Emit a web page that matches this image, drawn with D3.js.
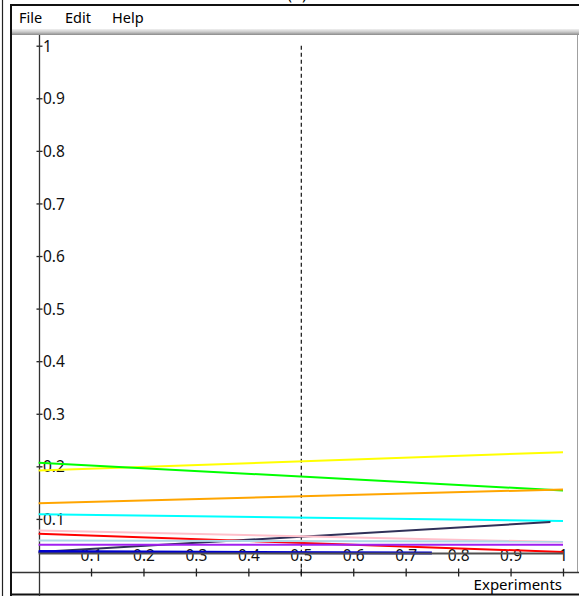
<!DOCTYPE html>
<html><head><meta charset="utf-8">
<script src="https://cdn.jsdelivr.net/npm/d3@7"></script>
<style>
html,body{margin:0;padding:0;background:#fff;}
svg{display:block;}
text{font-family:"Noto Sans","Open Sans",sans-serif;}
</style></head>
<body>
<svg id="c" width="579" height="596"></svg>
<script>
// ---- data ----
const seriesNames  = ["yellow","green","orange","cyan","navy","pink","red","lightblue","purple","blue","black"];
const seriesColors = ["#ffff00","#00ff00","#ffa500","#00ffff","#303058","#ffc0cb","#ff0000","#add8e6","#a020f0","#0000cd","#505050"];
const xStart = [0,0,0,0,0,0,0,0,0,0,0];
const xEnd   = [1,1,1,1,0.976,1,1,1,1,0.75,1];
const yStart = [0.192,0.207,0.130,0.109,0.037,0.078,0.072,0.059,0.051,0.038,0.034];
const yEnd   = [0.227,0.154,0.156,0.096,0.094,0.056,0.037,0.057,0.051,0.035,0.034];
const yTicks = [0.1,0.2,0.3,0.4,0.5,0.6,0.7,0.8,0.9,1];
const xTicks = [0.1,0.2,0.3,0.4,0.5,0.6,0.7,0.8,0.9,1];
const menuItems = ["File","Edit","Help"];
const xLabel = "Experiments";
const marker = 0.5;

const svg = d3.select("#c");
const x = d3.scaleLinear().domain([0,1]).range([38.6,563]);
const y = d3.scaleLinear().domain([0,1]).range([571.5,45.7]);

// title (cut off at top, as in the reference)
svg.append("text").attr("x",297).attr("y",0).attr("text-anchor","middle")
  .attr("font-family","Liberation Serif").attr("font-size",16).text("(b)");

// frame
svg.append("line").attr("x1",2.5).attr("x2",2.5).attr("y1",0).attr("y2",596).attr("stroke","#222").attr("stroke-width",1.2);
svg.append("line").attr("x1",11).attr("x2",11).attr("y1",4).attr("y2",596).attr("stroke","#111").attr("stroke-width",2);
svg.append("line").attr("x1",10).attr("x2",579).attr("y1",5).attr("y2",5).attr("stroke","#111").attr("stroke-width",2);
svg.append("line").attr("x1",10).attr("x2",579).attr("y1",594.5).attr("y2",594.5).attr("stroke","#111").attr("stroke-width",2);
// menu separator gradient
const g = svg.append("defs").append("linearGradient").attr("id","sep").attr("x1",0).attr("x2",0).attr("y1",0).attr("y2",1);
g.append("stop").attr("offset","0").attr("stop-color","#f0f0f0");
g.append("stop").attr("offset","0.5").attr("stop-color","#c8c8c8");
g.append("stop").attr("offset","1").attr("stop-color","#8a8a8a");
svg.append("rect").attr("x",12).attr("y",29).attr("width",567).attr("height",6).attr("fill","url(#sep)");
svg.append("line").attr("x1",577.5).attr("x2",577.5).attr("y1",35).attr("y2",572).attr("stroke","#a0a0a0");

// menu
const menuX = [19,65,112];
svg.selectAll(".menu").data(menuItems).join("text").attr("class","menu")
  .attr("x",(d,i)=>menuX[i]).attr("y",22.5).attr("font-size",14.5).attr("fill","#000").text(d=>d);

// y axis
const yAxis = d3.axisRight(y).tickValues(yTicks).tickSize(3).tickFormat(d3.format("~g"));
const ya = svg.append("g").attr("transform","translate(39.5,0)").call(yAxis);
ya.select(".domain").remove();
ya.selectAll(".tick line").attr("x1",-3).attr("x2",3).attr("stroke","#222").attr("stroke-width",1.3);
ya.selectAll(".tick text").attr("x",3.5).attr("dy","0.36em").attr("font-size",15.5).attr("fill","#111").attr("font-family","Noto Sans");
svg.append("line").attr("x1",39.5).attr("x2",39.5).attr("y1",35).attr("y2",596).attr("stroke","#333").attr("stroke-width",1.3);

// x axis (bottom)
svg.append("line").attr("x1",12).attr("x2",579).attr("y1",572.5).attr("y2",572.5).attr("stroke","#333").attr("stroke-width",1.3);
const xAxis = d3.axisBottom(x).tickValues(xTicks).tickSize(4).tickFormat(d3.format("~g"));
const xa = svg.append("g").attr("transform","translate(0,572.5)").call(xAxis);
xa.select(".domain").remove();
xa.selectAll(".tick line").attr("y1",-4).attr("y2",4).attr("stroke","#222").attr("stroke-width",1.3);
xa.selectAll(".tick text").attr("y",-12).attr("dy",0).attr("font-size",15.5).attr("fill","#111").attr("font-family","Noto Sans");

// marker dashed line
svg.append("line").attr("x1",x(marker)+0.5).attr("x2",x(marker)+0.5).attr("y1",y(1)).attr("y2",y(0)+4)
  .attr("stroke","#111").attr("stroke-width",1.2).attr("stroke-dasharray","4,3");

// series
const idx = d3.range(seriesNames.length);
const line = d3.line().x(d=>x(d[0])).y(d=>y(d[1]));
svg.append("g").selectAll("path").data(idx).join("path")
  .attr("d",i=>line([[xStart[i],yStart[i]],[xEnd[i],yEnd[i]]]))
  .attr("fill","none").attr("stroke",i=>seriesColors[i])
  .attr("stroke-width",i=>seriesNames[i]==="blue"?3:2);

// x label
svg.append("text").attr("x",562).attr("y",590).attr("text-anchor","end").attr("font-size",15).attr("fill","#000").text(xLabel);
</script>
</body></html>
